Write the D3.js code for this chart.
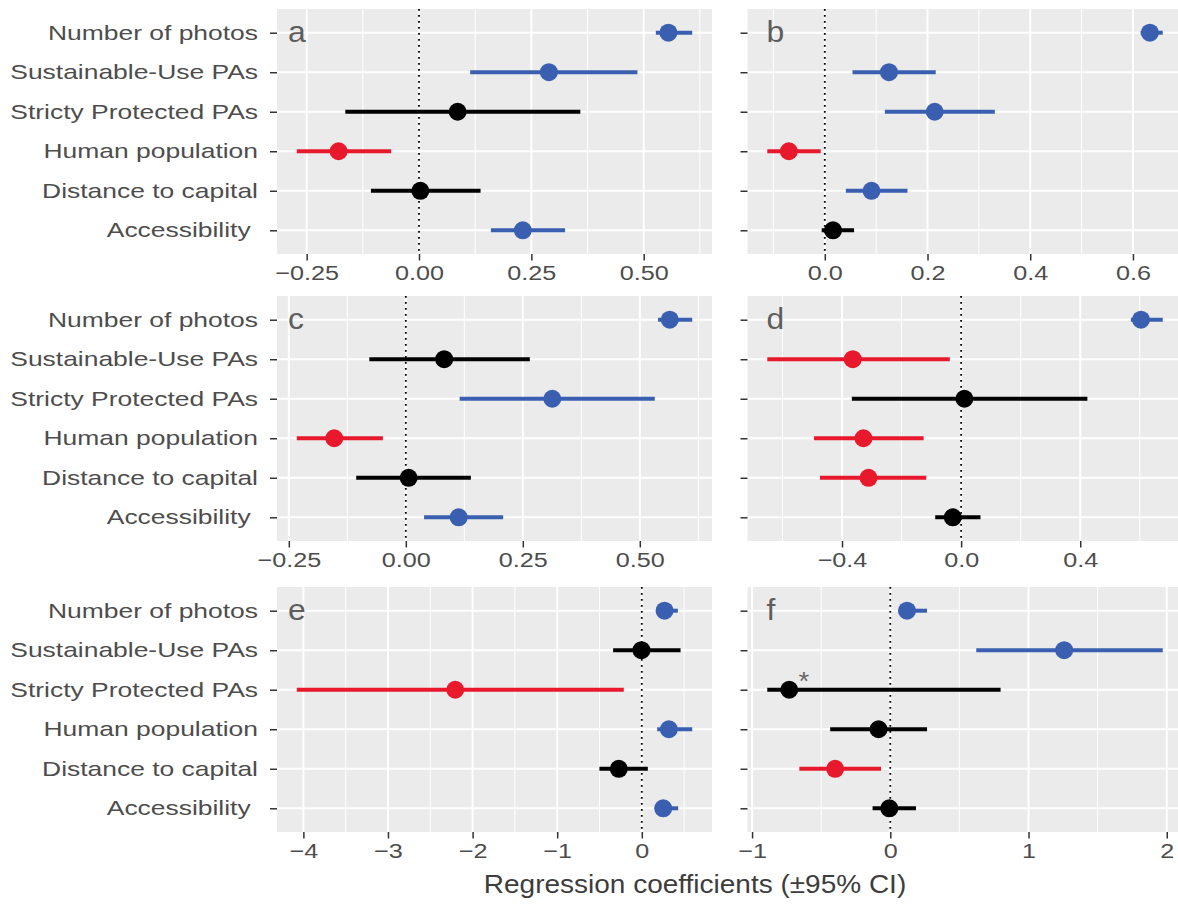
<!DOCTYPE html>
<html>
<head>
<meta charset="utf-8">
<script src="https://cdn.jsdelivr.net/npm/d3@7"></script>
<style>
body { margin: 0; background: #fff; overflow: hidden; }
svg { display: block; font-family: "Liberation Sans", Arial, sans-serif; }
</style>
</head>
<body>
<svg id="svg1" width="1178" height="912"></svg>
<script>
// predictors, top to bottom (the trailing space on the last one is in the original)
var predictors = ["Number of photos", "Sustainable-Use PAs", "Stricty Protected PAs",
                  "Human population", "Distance to capital", "Accessibility "];

var panelNames = ["a", "b", "c", "d", "e", "f"];

// coefficient estimates and 95% CI per panel, same order as predictors
var estA  = [0.555, 0.289, 0.086, -0.179, 0.003, 0.231];
var lowA  = [0.527, 0.114, -0.164, -0.272, -0.107, 0.160];
var highA = [0.608, 0.486, 0.359, -0.062, 0.137, 0.325];

var estB  = [0.633, 0.125, 0.214, -0.070, 0.091, 0.016];
var lowB  = [0.615, 0.054, 0.117, -0.112, 0.041, -0.006];
var highB = [0.658, 0.216, 0.331, -0.008, 0.161, 0.057];

var estC  = [0.564, 0.082, 0.313, -0.153, 0.006, 0.113];
var lowC  = [0.539, -0.078, 0.115, -0.233, -0.106, 0.039];
var highC = [0.612, 0.265, 0.532, -0.049, 0.139, 0.208];

var estD  = [0.604, -0.364, 0.011, -0.328, -0.311, -0.028];
var lowD  = [0.570, -0.651, -0.367, -0.494, -0.474, -0.087];
var highD = [0.677, -0.038, 0.424, -0.126, -0.117, 0.065];

var estE  = [0.269, -0.004, -2.205, 0.320, -0.272, 0.253];
var lowE  = [0.170, -0.339, -4.078, 0.182, -0.501, 0.160];
var highE = [0.426, 0.458, -0.213, 0.596, 0.071, 0.430];

var estF  = [0.121, 1.258, -0.731, -0.085, -0.399, -0.007];
var lowF  = [0.060, 0.622, -0.890, -0.435, -0.658, -0.128];
var highF = [0.266, 1.971, 0.798, 0.266, -0.067, 0.186];

// x tick values and their labels
var ticksA = [-0.25, 0, 0.25, 0.5],   tickLabelsA = ["\u22120.25", "0.00", "0.25", "0.50"];
var ticksB = [0, 0.2, 0.4, 0.6],      tickLabelsB = ["0.0", "0.2", "0.4", "0.6"];
var ticksC = [-0.25, 0, 0.25, 0.5],   tickLabelsC = ["\u22120.25", "0.00", "0.25", "0.50"];
var ticksD = [-0.4, 0, 0.4],          tickLabelsD = ["\u22120.4", "0.0", "0.4"];
var ticksE = [-4, -3, -2, -1, 0],     tickLabelsE = ["\u22124", "\u22123", "\u22122", "\u22121", "0"];
var ticksF = [-1, 0, 1, 2],           tickLabelsF = ["\u22121", "0", "1", "2"];

var xTitle = "Regression coefficients (\u00b195% CI)";

// the starred estimate (panel f, Stricty Protected PAs)
var starPanel = "f", starRow = 2;

var panels = [
    {name: "a", est: estA, low: lowA, high: highA, ticks: ticksA, labels: tickLabelsA},
    {name: "b", est: estB, low: lowB, high: highB, ticks: ticksB, labels: tickLabelsB},
    {name: "c", est: estC, low: lowC, high: highC, ticks: ticksC, labels: tickLabelsC},
    {name: "d", est: estD, low: lowD, high: highD, ticks: ticksD, labels: tickLabelsD},
    {name: "e", est: estE, low: lowE, high: highE, ticks: ticksE, labels: tickLabelsE},
    {name: "f", est: estF, low: lowF, high: highF, ticks: ticksF, labels: tickLabelsF}
];

var blue = "#3a5fb0", red = "#e8192c";

// layout
var colLeft = [277, 747.5];
var rowTop = [9, 296, 587];
var panelW = 435, panelH = 245;

var svg = d3.select("#svg1");

// stretch text horizontally (the source lettering is wide)
function stretchText(sel, k) {
    sel.each(function() {
        var t = d3.select(this);
        var x = +t.attr("x") || 0, y = +t.attr("y") || 0;
        t.attr("x", 0).attr("y", 0)
         .attr("transform", "translate(" + x + "," + y + ") scale(" + k + ",1)");
    });
}

panels.forEach(function(p, i) {
    var col = i % 2, row = Math.floor(i / 2);
    var g = svg.append("g")
        .attr("transform", "translate(" + colLeft[col] + "," + rowTop[row] + ")");

    var rows = predictors.map(function(name, j) {
        return {name: name, est: p.est[j], low: p.low[j], high: p.high[j], j: j};
    });

    // ggplot style 5% expansion of the data range
    var lo = d3.min(rows, function(d) { return d.low; });
    var hi = d3.max(rows, function(d) { return d.high; });
    var pad = (hi - lo) * 0.05;
    var x = d3.scaleLinear().domain([lo - pad, hi + pad]).range([0, panelW]);
    var y = d3.scalePoint().domain(predictors).range([0, panelH]).padding(0.6);

    g.append("rect")
        .attr("width", panelW).attr("height", panelH)
        .attr("fill", "#ebebeb");

    // minor grid at half steps
    var step = p.ticks[1] - p.ticks[0];
    var minor = [];
    for (var v = p.ticks[0] - step / 2; v <= x.domain()[1]; v += step) {
        if (v >= x.domain()[0]) minor.push(v);
    }
    g.selectAll(".minor").data(minor).enter().append("line")
        .attr("x1", function(d) { return x(d); }).attr("x2", function(d) { return x(d); })
        .attr("y1", 0).attr("y2", panelH)
        .attr("stroke", "#fff").attr("stroke-width", 1);

    g.selectAll(".major").data(p.ticks).enter().append("line")
        .attr("x1", function(d) { return x(d); }).attr("x2", function(d) { return x(d); })
        .attr("y1", 0).attr("y2", panelH)
        .attr("stroke", "#fff").attr("stroke-width", 2);

    g.selectAll(".hgrid").data(predictors).enter().append("line")
        .attr("x1", 0).attr("x2", panelW)
        .attr("y1", function(d) { return y(d); }).attr("y2", function(d) { return y(d); })
        .attr("stroke", "#fff").attr("stroke-width", 2);

    // zero line
    g.append("line")
        .attr("x1", x(0)).attr("x2", x(0))
        .attr("y1", 0).attr("y2", panelH)
        .attr("stroke", "#000").attr("stroke-width", 1.8)
        .attr("stroke-dasharray", "1.8,4.2");

    function colour(d) {
        if (d.low > 0) return blue;
        if (d.high < 0) return red;
        return "#000";
    }

    g.selectAll(".ci").data(rows).enter().append("line")
        .attr("x1", function(d) { return x(d.low); })
        .attr("x2", function(d) { return x(d.high); })
        .attr("y1", function(d) { return y(d.name); })
        .attr("y2", function(d) { return y(d.name); })
        .attr("stroke", colour).attr("stroke-width", 4);

    g.selectAll(".pt").data(rows).enter().append("circle")
        .attr("cx", function(d) { return x(d.est); })
        .attr("cy", function(d) { return y(d.name); })
        .attr("r", 9)
        .attr("fill", colour);

    // axes
    var xAxis = g.append("g")
        .attr("transform", "translate(0," + panelH + ")")
        .call(d3.axisBottom(x).tickValues(p.ticks)
            .tickFormat(function(d, k) { return p.labels[k]; })
            .tickSize(6.5).tickPadding(4.5));
    xAxis.select(".domain").remove();
    xAxis.selectAll("line").attr("stroke", "#333").attr("stroke-width", 1.5);
    xAxis.selectAll("text")
        .attr("fill", "#4d4d4d").attr("font-size", 21)
        .attr("font-family", "Liberation Sans, Arial, sans-serif");
    stretchText(xAxis.selectAll("text"), 1.2);

    var yAxis = g.append("g")
        .call(d3.axisLeft(y).tickSize(7).tickPadding(12)
            .tickFormat(col === 0 ? null : function() { return ""; }));
    yAxis.select(".domain").remove();
    yAxis.selectAll("line").attr("stroke", "#333").attr("stroke-width", 1.5);
    yAxis.selectAll("text")
        .attr("fill", "#4d4d4d").attr("font-size", 20.5)
        .attr("font-family", "Liberation Sans, Arial, sans-serif")
        .style("white-space", "pre");
    stretchText(yAxis.selectAll("text"), 1.29);

    // panel letter
    var letter = g.append("text")
        .attr("x", col === 0 ? 11 : 19)
        .attr("y", y(predictors[0]) + 9)
        .attr("fill", "#5e5e5e").attr("font-size", 29)
        .text(p.name);
    stretchText(letter, 1.1);

    if (p.name === starPanel) {
        var s = rows[starRow];
        var star = g.append("text")
            .attr("x", x(s.est) + 14.5)
            .attr("y", y(s.name) + 0.5)
            .attr("text-anchor", "middle")
            .attr("fill", "#666").attr("font-size", 25)
            .text("*");
        stretchText(star, 1.1);
    }
});

var title = svg.append("text")
    .attr("x", 695).attr("y", 893)
    .attr("text-anchor", "middle")
    .attr("fill", "#3d3d3d").attr("font-size", 25)
    .text(xTitle);
stretchText(title, 1.12);
</script>
</body>
</html>
